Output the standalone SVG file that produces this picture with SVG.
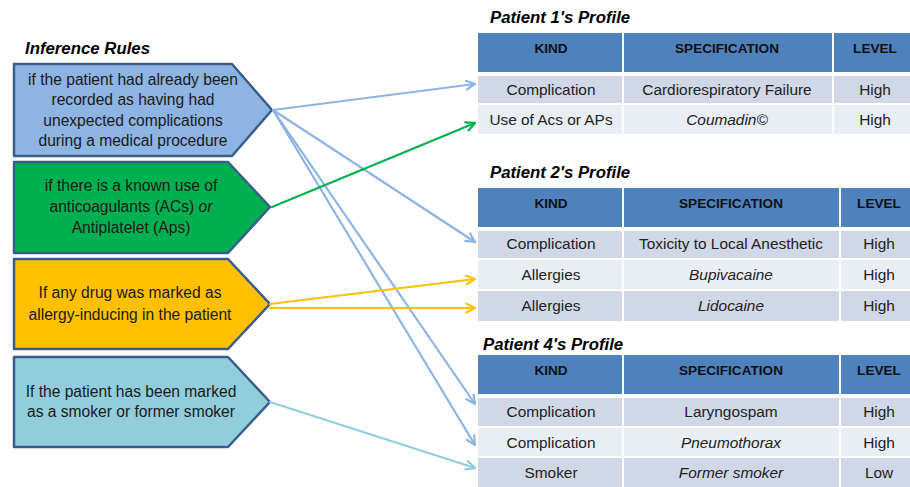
<svg xmlns="http://www.w3.org/2000/svg" width="910" height="487" viewBox="0 0 910 487">
<defs>
<style>
.ttl{font-family:"Liberation Sans",Arial,sans-serif;font-weight:bold;font-style:italic;font-size:16.8px;fill:#000;}
.rule{stroke:#385D8A;stroke-width:2.5;stroke-linejoin:round;}
.rt{font-family:"Liberation Sans",Arial,sans-serif;font-size:15.6px;fill:#1a1a1a;text-anchor:middle;}
.hd{fill:#4F81BD;}
.r1{fill:#D0D8E8;}
.r2{fill:#E9EDF4;}
.ht{font-family:"Liberation Sans",Arial,sans-serif;font-weight:bold;font-size:13.6px;fill:#111;text-anchor:middle;}
.ct{font-family:"Liberation Sans",Arial,sans-serif;font-size:15.4px;fill:#222;text-anchor:middle;}
.it{font-style:italic;}
.cn{fill:none;stroke-width:2.2;stroke-linecap:round;}
.blue{stroke:#8EB4E3;}
.green{stroke:#00B050;}
.yellow{stroke:#FFC000;}
.cyan{stroke:#92CDDC;}
</style>
<marker id="ab" viewBox="0 0 10 10" refX="9" refY="5" markerWidth="11" markerHeight="11" markerUnits="userSpaceOnUse" orient="auto"><path d="M1,1 L9,5 L1,9" fill="none" stroke="#8EB4E3" stroke-width="2" stroke-linecap="round"/></marker>
<marker id="ag" viewBox="0 0 10 10" refX="9" refY="5" markerWidth="11" markerHeight="11" markerUnits="userSpaceOnUse" orient="auto"><path d="M1,1 L9,5 L1,9" fill="none" stroke="#00B050" stroke-width="2" stroke-linecap="round"/></marker>
<marker id="ay" viewBox="0 0 10 10" refX="9" refY="5" markerWidth="11" markerHeight="11" markerUnits="userSpaceOnUse" orient="auto"><path d="M1,1 L9,5 L1,9" fill="none" stroke="#FFC000" stroke-width="2" stroke-linecap="round"/></marker>
<marker id="ac" viewBox="0 0 10 10" refX="9" refY="5" markerWidth="11" markerHeight="11" markerUnits="userSpaceOnUse" orient="auto"><path d="M1,1 L9,5 L1,9" fill="none" stroke="#92CDDC" stroke-width="2" stroke-linecap="round"/></marker>
</defs>
<rect width="910" height="487" fill="#fff"/>

<text class="ttl" x="25" y="54">Inference Rules</text>

<g id="rule-complications">
<polygon class="rule" fill="#8DB4E2" points="14,64 232,64 272,110 232,156 14,156"/>
<text class="rt" x="133" y="85">if the patient had already been</text>
<text class="rt" x="133" y="105">recorded as having had</text>
<text class="rt" x="133" y="126">unexpected complications</text>
<text class="rt" x="133" y="146">during a medical procedure</text>
</g>

<g id="rule-anticoagulants">
<polygon class="rule" fill="#00B050" points="14,162 228,162 270,207 228,253 14,253"/>
<text class="rt" x="131" y="191">if there is a known use of</text>
<text class="rt" x="131" y="212">anticoagulants (ACs) <tspan class="it">or</tspan></text>
<text class="rt" x="131" y="233">Antiplatelet (Aps)</text>
</g>

<g id="rule-allergy">
<polygon class="rule" fill="#FFC000" points="14,259 228,259 270,304 228,349 14,349"/>
<text class="rt" x="130" y="298">If any drug was marked as</text>
<text class="rt" x="130" y="320">allergy-inducing in the patient</text>
</g>

<g id="rule-smoker">
<polygon class="rule" fill="#92CDDC" points="14,357 228,357 270,402 228,447 14,447"/>
<text class="rt" x="131" y="397">If the patient has been marked</text>
<text class="rt" x="131" y="417">as a smoker or former smoker</text>
</g>

<g id="patient1">
<text class="ttl" x="490" y="23">Patient 1's Profile</text>
<rect class="hd" x="478" y="33" width="144" height="39"/>
<rect class="hd" x="624" y="33" width="208" height="39"/>
<rect class="hd" x="834" y="33" width="76" height="39"/>
<text class="ht" x="551" y="53">KIND</text>
<text class="ht" x="727" y="53">SPECIFICATION</text>
<text class="ht" x="875" y="53">LEVEL</text>
<rect class="r1" x="478" y="76" width="144" height="27"/>
<rect class="r1" x="624" y="76" width="208" height="27"/>
<rect class="r1" x="834" y="76" width="76" height="27"/>
<text class="ct" x="551" y="95">Complication</text>
<text class="ct" x="727" y="95">Cardiorespiratory Failure</text>
<text class="ct" x="875" y="95">High</text>
<rect class="r2" x="478" y="105" width="144" height="29"/>
<rect class="r2" x="624" y="105" width="208" height="29"/>
<rect class="r2" x="834" y="105" width="76" height="29"/>
<text class="ct" x="551" y="125">Use of Acs or APs</text>
<text class="ct it" x="727" y="125">Coumadin©</text>
<text class="ct" x="875" y="125">High</text>
</g>

<g id="patient2">
<text class="ttl" x="490" y="178">Patient 2's Profile</text>
<rect class="hd" x="478" y="188" width="144" height="39"/>
<rect class="hd" x="624" y="188" width="215" height="39"/>
<rect class="hd" x="841" y="188" width="69" height="39"/>
<text class="ht" x="551" y="208">KIND</text>
<text class="ht" x="731" y="208">SPECIFICATION</text>
<text class="ht" x="879" y="208">LEVEL</text>
<rect class="r1" x="478" y="231" width="144" height="27"/>
<rect class="r1" x="624" y="231" width="215" height="27"/>
<rect class="r1" x="841" y="231" width="69" height="27"/>
<text class="ct" x="551" y="249">Complication</text>
<text class="ct" x="731" y="249">Toxicity to Local Anesthetic</text>
<text class="ct" x="879" y="249">High</text>
<rect class="r2" x="478" y="260" width="144" height="29"/>
<rect class="r2" x="624" y="260" width="215" height="29"/>
<rect class="r2" x="841" y="260" width="69" height="29"/>
<text class="ct" x="551" y="280">Allergies</text>
<text class="ct it" x="731" y="280">Bupivacaine</text>
<text class="ct" x="879" y="280">High</text>
<rect class="r1" x="478" y="291" width="144" height="30"/>
<rect class="r1" x="624" y="291" width="215" height="30"/>
<rect class="r1" x="841" y="291" width="69" height="30"/>
<text class="ct" x="551" y="311">Allergies</text>
<text class="ct it" x="731" y="311">Lidocaine</text>
<text class="ct" x="879" y="311">High</text>
</g>

<g id="patient4">
<text class="ttl" x="483" y="350">Patient 4's Profile</text>
<rect class="hd" x="478" y="355" width="144" height="39"/>
<rect class="hd" x="624" y="355" width="215" height="39"/>
<rect class="hd" x="841" y="355" width="69" height="39"/>
<text class="ht" x="551" y="375">KIND</text>
<text class="ht" x="731" y="375">SPECIFICATION</text>
<text class="ht" x="879" y="375">LEVEL</text>
<rect class="r1" x="478" y="398" width="144" height="28"/>
<rect class="r1" x="624" y="398" width="215" height="28"/>
<rect class="r1" x="841" y="398" width="69" height="28"/>
<text class="ct" x="551" y="417">Complication</text>
<text class="ct" x="731" y="417">Laryngospam</text>
<text class="ct" x="879" y="417">High</text>
<rect class="r2" x="478" y="428" width="144" height="28"/>
<rect class="r2" x="624" y="428" width="215" height="28"/>
<rect class="r2" x="841" y="428" width="69" height="28"/>
<text class="ct" x="551" y="448">Complication</text>
<text class="ct it" x="731" y="448">Pneumothorax</text>
<text class="ct" x="879" y="448">High</text>
<rect class="r1" x="478" y="458" width="144" height="29"/>
<rect class="r1" x="624" y="458" width="215" height="29"/>
<rect class="r1" x="841" y="458" width="69" height="29"/>
<text class="ct" x="551" y="478">Smoker</text>
<text class="ct it" x="731" y="478">Former smoker</text>
<text class="ct" x="879" y="478">Low</text>
</g>

<g id="connectors">
<line class="cn blue" x1="273" y1="110" x2="475" y2="84" marker-end="url(#ab)"/>
<line class="cn blue" x1="273" y1="110" x2="475" y2="242" marker-end="url(#ab)"/>
<line class="cn blue" x1="273" y1="110" x2="475" y2="404" marker-end="url(#ab)"/>
<line class="cn blue" x1="273" y1="110" x2="475" y2="445" marker-end="url(#ab)"/>
<line class="cn green" x1="272" y1="207" x2="475" y2="123" marker-end="url(#ag)"/>
<line class="cn yellow" x1="270" y1="304" x2="475" y2="279" marker-end="url(#ay)"/>
<line class="cn yellow" x1="270" y1="308" x2="475" y2="308" marker-end="url(#ay)"/>
<line class="cn cyan" x1="270" y1="402" x2="475" y2="468" marker-end="url(#ac)"/>
</g>
</svg>
